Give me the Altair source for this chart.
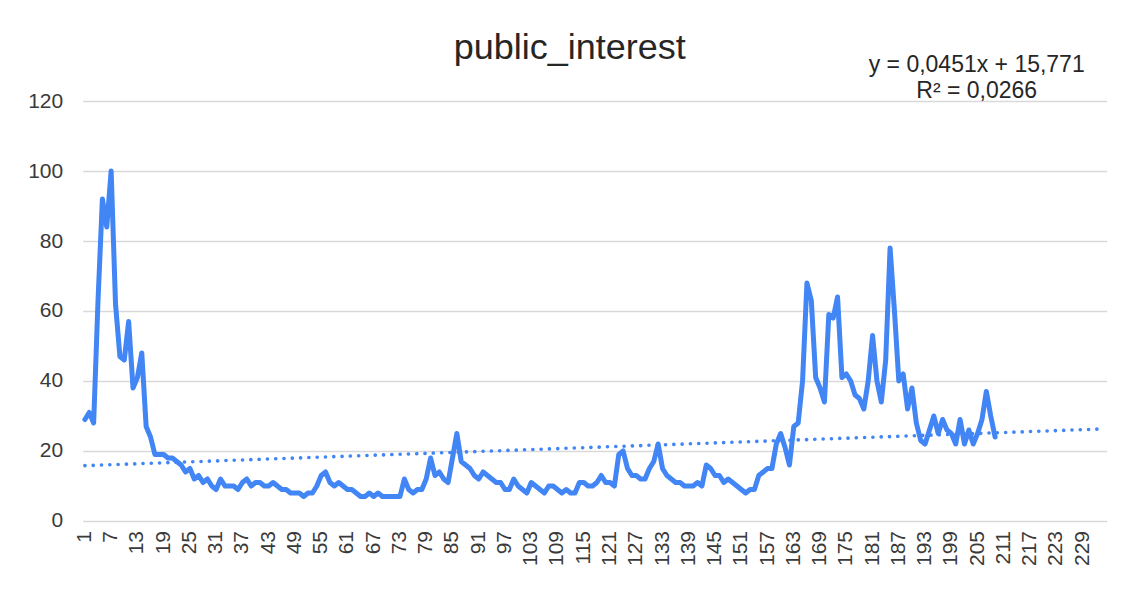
import altair as alt
import pandas as pd

# ---- data ----
TITLE = "public_interest"
EQUATION = "y = 0,0451x + 15,771"
R_SQUARED = "R² = 0,0266"
SLOPE = 0.0451
INTERCEPT = 15.771
N_CATEGORIES = 234
X_TICK_LABELS = list(range(1, 230, 6))
Y_TICKS = [0, 20, 40, 60, 80, 100, 120]

VALUES = [
    29, 31, 28, 63, 92, 84, 100, 62, 47, 46,
    57, 38, 41, 48, 27, 24, 19, 19, 19, 18,
    18, 17, 16, 14, 15, 12, 13, 11, 12, 10,
    9, 12, 10, 10, 10, 9, 11, 12, 10, 11,
    11, 10, 10, 11, 10, 9, 9, 8, 8, 8,
    7, 8, 8, 10, 13, 14, 11, 10, 11, 10,
    9, 9, 8, 7, 7, 8, 7, 8, 7, 7,
    7, 7, 7, 12, 9, 8, 9, 9, 12, 18,
    13, 14, 12, 11, 18, 25, 17, 16, 15, 13,
    12, 14, 13, 12, 11, 11, 9, 9, 12, 10,
    9, 8, 11, 10, 9, 8, 10, 10, 9, 8,
    9, 8, 8, 11, 11, 10, 10, 11, 13, 11,
    11, 10, 19, 20, 15, 13, 13, 12, 12, 15,
    17, 22, 15, 13, 12, 11, 11, 10, 10, 10,
    11, 10, 16, 15, 13, 13, 11, 12, 11, 10,
    9, 8, 9, 9, 13, 14, 15, 15, 22, 25,
    21, 16, 27, 28, 40, 68, 63, 41, 38, 34,
    59, 58, 64, 41, 42, 40, 36, 35, 32, 40,
    53, 40, 34, 46, 78, 60, 40, 42, 32, 38,
    28, 23, 22, 26, 30, 25, 29, 26, 25, 22,
    29, 22, 26, 22, 25, 29, 37, 30, 24,
]

# ---- tables ----
df = pd.DataFrame({"period": list(range(1, len(VALUES) + 1)), "value": VALUES})
trend_x = [1, N_CATEGORIES]
trend = pd.DataFrame({"period": trend_x, "value": [INTERCEPT + SLOPE * x for x in trend_x]})
ticks_df = pd.DataFrame({"period": X_TICK_LABELS})
eq_df = pd.DataFrame({"label": [EQUATION]})
title_df = pd.DataFrame({"label": [TITLE]})

BLUE = "#4285F4"
TEXT = "#3a3a3a"
FONT = "Liberation Sans"
W, H = 1024, 420

xscale = alt.Scale(domain=[0.5, N_CATEGORIES + 0.5], nice=False, zero=False)
yscale = alt.Scale(domain=[0, 120], nice=False)

xaxis = alt.Axis(
    values=X_TICK_LABELS, labels=False, domain=False, ticks=False, grid=False, title=None,
)
yaxis = alt.Axis(
    values=Y_TICKS, labelFontSize=21, labelColor=TEXT, labelFont=FONT,
    domain=False, ticks=False, grid=True, gridColor="#d9d9d9", gridWidth=1.5,
    labelPadding=20, title=None,
)

line = alt.Chart(df).mark_line(
    color=BLUE, strokeWidth=5, strokeJoin="round", strokeCap="round"
).encode(
    x=alt.X("period:Q", scale=xscale, axis=xaxis),
    y=alt.Y("value:Q", scale=yscale, axis=yaxis),
)

trend_line = alt.Chart(trend).mark_line(
    color=BLUE, strokeWidth=3.6, strokeDash=[0.1, 8.2], strokeCap="round"
).encode(
    x=alt.X("period:Q", scale=xscale),
    y=alt.Y("value:Q", scale=yscale),
)

# category labels along the x axis, placed through the x scale
x_labels = alt.Chart(ticks_df).mark_text(
    angle=270, align="right", baseline="middle", fontSize=21, font=FONT, color=TEXT,
).encode(
    x=alt.X("period:Q", scale=xscale),
    y=alt.value(H + 10),
    text=alt.Text("period:Q", format="d"),
)

eq_text = alt.Chart(eq_df).mark_text(
    text=[EQUATION, R_SQUARED], align="center", baseline="alphabetic",
    fontSize=23, font=FONT, color="#262626", lineHeight=27,
).encode(x=alt.value(894), y=alt.value(-29.5))

title_text = alt.Chart(title_df).mark_text(
    align="center", baseline="alphabetic", fontSize=36, font=FONT, color="#262626",
).encode(x=alt.value(487), y=alt.value(-42), text="label:N")

chart = alt.layer(line, trend_line, x_labels, eq_text, title_text).properties(
    width=W, height=H,
    autosize=alt.AutoSizeParams(type="none"),
    padding={"left": 74.7, "top": 93, "right": 10, "bottom": 66},
).configure_view(stroke=None)

chart.save("out.html", embed_options={"renderer": "svg", "actions": False})
